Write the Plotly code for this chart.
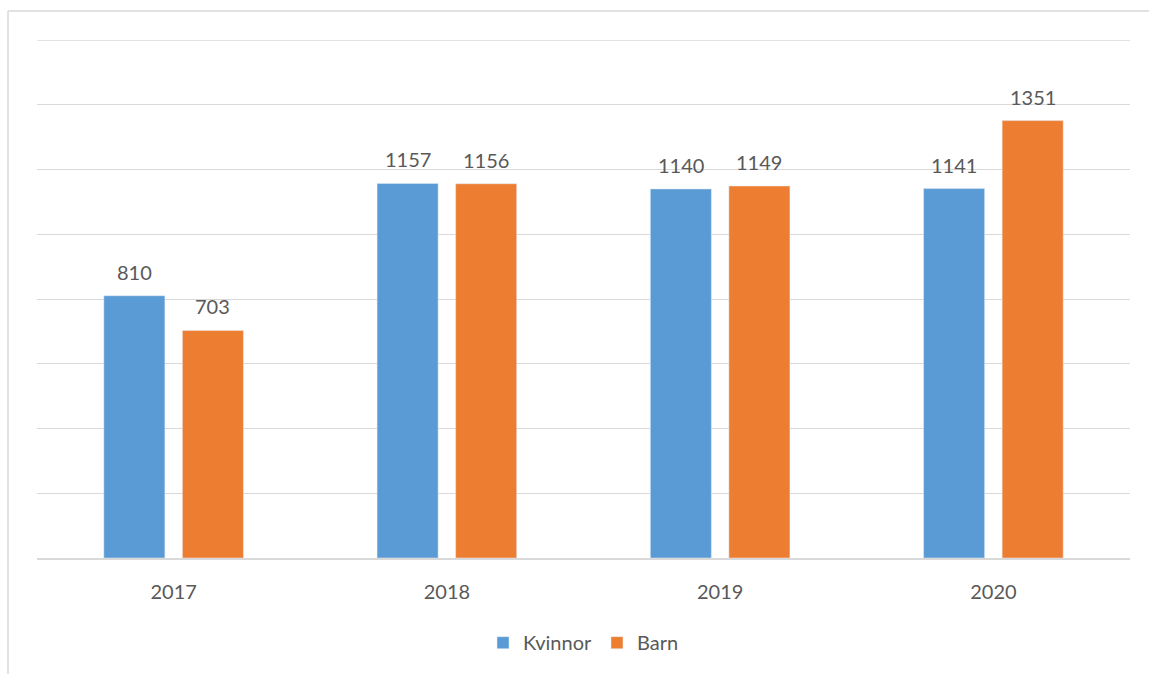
import plotly.graph_objects as go

years = ["2017", "2018", "2019", "2020"]
kvinnor = [810, 1157, 1140, 1141]
barn = [703, 1156, 1149, 1351]

W, H = 1149, 674
L, R, T, B = 37, 19, 40, 114
font_family = "Lato, 'Open Sans', sans-serif"
txt = "#595959"

fig = go.Figure()
fig.add_trace(go.Bar(x=years, y=kvinnor, name="Kvinnor", marker_color="#5B9BD5",
                     offsetgroup="k"))
fig.add_trace(go.Bar(x=years, y=barn, name="Barn", marker_color="#ED7D31",
                     offsetgroup="b"))

pw = W - L - R
ph = H - T - B
bargap, groupgap = 0.425, 0.223
slot = (1 - bargap) / 2
annotations = []
for i, yr in enumerate(years):
    for j, vals in enumerate([kvinnor, barn]):
        xoff = (j - 0.5) * slot
        annotations.append(dict(x=i + xoff, y=vals[i], xref="x", yref="y",
                                text=str(vals[i]), showarrow=False,
                                yanchor="bottom", yshift=10,
                                font=dict(size=20, color=txt, family=font_family)))

fig.update_layout(
    width=W, height=H,
    margin=dict(l=L, r=R, t=T, b=B, pad=0),
    paper_bgcolor="white", plot_bgcolor="white",
    barmode="group", bargap=bargap, bargroupgap=groupgap,
    font=dict(family=font_family, color=txt, size=20),
    showlegend=True,
    legend=dict(orientation="h", x=0.5, xanchor="center", y=(560 - 645) / ph, yanchor="middle",
                font=dict(size=20, color=txt), itemwidth=30, traceorder="normal"),
    xaxis=dict(showgrid=False, showline=True, linecolor="#d9d9d9", linewidth=1.5,
               ticks="", ticklabelstandoff=15, tickfont=dict(size=20, color=txt)),
    yaxis=dict(range=[0, 1600], dtick=200, showgrid=True, gridcolor="#d9d9d9", gridwidth=1.3,
               showticklabels=False, zeroline=False, showline=False),
    annotations=annotations,
    shapes=[
        dict(type="line", xref="paper", yref="y", x0=0, x1=1, y0=1600, y1=1600,
             line=dict(color="#d9d9d9", width=1.3), layer="below"),
        dict(type="line", xref="paper", yref="paper",
             x0=(8 - L) / pw, x1=(W + 5 - L) / pw, y0=(H - B - 11) / ph, y1=(H - B - 11) / ph,
             line=dict(color="#d9d9d9", width=1.5)),
        dict(type="line", xref="paper", yref="paper",
             x0=(8 - L) / pw, x1=(8 - L) / pw, y0=(H - B - 11) / ph, y1=(H - B - H - 5) / ph,
             line=dict(color="#d9d9d9", width=1.5)),
    ],
)
fig.write_html("out.html", config={"displayModeBar": False},
               post_script="document.body.style.margin='0';")
